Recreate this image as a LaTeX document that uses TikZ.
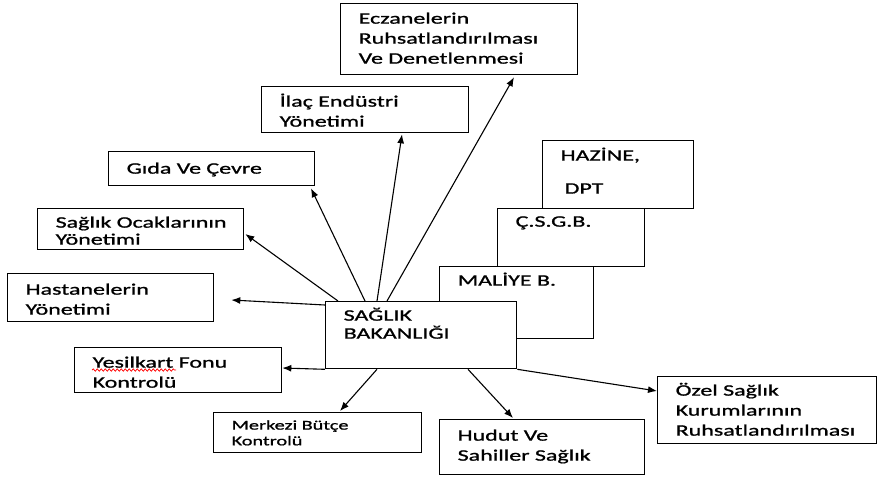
\documentclass[tikz,border=0pt]{standalone}
\usepackage{fontspec}
\setmainfont{Carlito}[FakeStretch=1.5,FakeBold=1,WordSpace=0.7]
\usetikzlibrary{arrows.meta,calc,decorations.pathmorphing}
\newcommand\boxfont{\fontsize{16pt}{20pt}\selectfont\hyphenpenalty=10000}
\newcommand\smallboxfont{\fontsize{13.5pt}{15.7pt}\selectfont\hyphenpenalty=10000}
\tikzset{box/.style={draw,fill=white,line width=1.3pt,anchor=north west,align=left,
                     inner xsep=18pt,inner ysep=0pt,font=\boxfont}}
\tikzset{arr/.style={-{Latex[length=9pt,width=7pt]},line width=1.1pt}}

\begin{document}
\begin{tikzpicture}[x=1pt,y=-1pt]
        \useasboundingbox (0,0) rectangle (877,477);
        % boxes round the ministry
        \node[box,text width=201,text height=20,text depth=51] (ecz) at (340,3)
             {Eczanelerin\\Ruhsatlandırılması\\Ve Denetlenmesi};
        \node[box,text width=171,text height=20,text depth=26] (ilac) at (261,86)
             {İlaç Endüstri\\Yönetimi};
        \node[box,text width=170,text height=22,text depth=12] (gida) at (108,151)
             {Gıda Ve Çevre};
        \node[box,text width=170,text height=19,text depth=22] (ocak) at (37,208)
             {\mbox{Sağlık Ocaklarının}\\[-3pt]Yönetimi};
        \node[box,text width=170,text height=21,text depth=27] (hast) at (7,273)
             {Hastanelerin\\Yönetimi};
        \node[box,text width=171,text height=20,text depth=25] (yes) at (74,347)
             {Yesilkart Fonu\\Kontrolü};
        \node[box,text width=172,text height=17,text depth=23,font=\smallboxfont] (mrk) at (213,412)
             {Merkezi Bütçe\\Kontrolü};
        \node[box,text width=169,text height=21,text depth=34] (hud) at (439,419)
             {Hudut Ve\\Sahiller Sağlık};
        \node[box,text width=183,text height=19,text depth=48] (ozel) at (657,376)
             {Özel Sağlık\\Kurumlarının\\Ruhsatlandırılması};
        % stacked boxes behind the ministry
        \node[box,text width=115,text height=20,text depth=48] (haz) at (542,140)
             {HAZİNE,\\[13pt]\hspace{4pt}DPT};
        \node[box,text width=111,text height=18,text depth=40] (csgb) at (497,208) {Ç.S.G.B.};
        \node[box,text width=118,text height=19,text depth=53] (mal) at (439,266) {MALİYE B.};
        \node[box,text width=155,text height=19,text depth=48] (bak) at (325,301)
             {SAĞLIK\\[-2pt]BAKANLIĞI};
        % spell check mark
        \draw[red,line width=0.7pt,decorate,decoration={snake,segment length=4pt,amplitude=1.2pt}]
             ($(yes.north west)+(18,23)$) -- ($(yes.north west)+(102,23)$);
        % arrows
        \draw[arr] ($(bak.north west)+(62,0)$) -- ($(ecz.south west)+(174,2)$);
        \draw[arr] ($(bak.north west)+(52,0)$) -- ($(ilac.south west)+(141,1)$);
        \draw[arr] ($(bak.north west)+(40,0)$) -- ($(gida.south west)+(203,2)$);
        \draw[arr] ($(bak.north west)+(13,0)$) -- ($(ocak.north east)+(1,26)$);
        \draw[arr] ($(bak.north west)+(0,4)$) -- ($(hast.north east)+(17,27)$);
        \draw[arr] (bak.south west) -- ($(yes.north east)+(0,21)$);
        \draw[arr] ($(bak.south west)+(52,0)$) -- ($(mrk.north west)+(127,-1)$);
        \draw[arr] ($(bak.south west)+(143,0)$) -- ($(hud.north west)+(74,-1)$);
        \draw[arr] (bak.south east) -- ($(ozel.north west)+(0,15)$);
      \end{tikzpicture}
\end{document}
